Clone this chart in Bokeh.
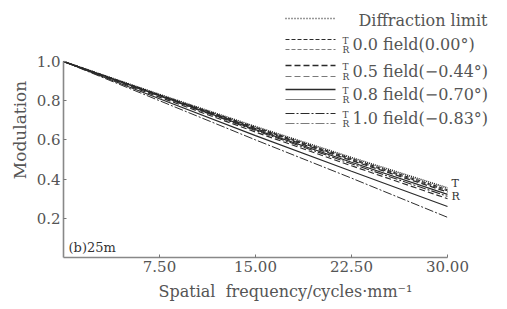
from bokeh.plotting import figure
from bokeh.models import FixedTicker, Range1d, Label
from bokeh.embed import file_html
from bokeh.resources import INLINE

freq = [0.0, 7.5, 15.0, 22.5, 30.0]
diffraction = [1.0, 0.832, 0.668, 0.510, 0.355]
f00_T = [1.0, 0.830, 0.664, 0.504, 0.346]
f00_R = [1.0, 0.829, 0.661, 0.499, 0.340]
f05_T = [1.0, 0.828, 0.658, 0.495, 0.334]
f05_R = [1.0, 0.818, 0.640, 0.468, 0.300]
f08_T = [1.0, 0.826, 0.652, 0.486, 0.322]
f08_R = [1.0, 0.810, 0.622, 0.440, 0.260]
f10_T = [1.0, 0.824, 0.648, 0.478, 0.312]
f10_R = [1.0, 0.800, 0.600, 0.405, 0.205]

x_ticks = [7.5, 15.0, 22.5, 30.0]
x_tick_labels = ["7.50", "15.00", "22.50", "30.00"]
y_ticks = [0.2, 0.4, 0.6, 0.8, 1.0]
y_tick_labels = ["0.2", "0.4", "0.6", "0.8", "1.0"]

legend_labels = ["0.0\u00a0field(0.00°)", "0.5\u00a0field(−0.44°)",
                 "0.8\u00a0field(−0.70°)", "1.0\u00a0field(−0.83°)"]

FONT = "DejaVu Serif"
GREY = "#555555"
DARK = "#2a2a2a"
LIGHT = "#7a7a7a"

W, H = 507, 309
FL, FR, FT, FB = 63, W, 2, 257
X0, X1 = 0.0, (FR - FL) / 12.8
Y0, Y1 = 0.0, (FB - FT) / 196.0

p = figure(width=W, height=H, output_backend="svg", toolbar_location=None,
           x_range=Range1d(X0, X1), y_range=Range1d(Y0, Y1),
           min_border_left=FL, min_border_right=W - FR, min_border_top=FT,
           min_border_bottom=H - FB)
p.outline_line_color = None
p.grid.visible = False
p.background_fill_color = "white"

# helpers converting pixel positions to data coordinates (legend/labels layout)
def px(ix):
    return X0 + (ix - FL) / (FR - FL) * (X1 - X0)
def py(iy):
    return Y1 - (iy - FT) / (FB - FT) * (Y1 - Y0)

styles = [
    (f00_T, f00_R, "4 2", 1.1),
    (f05_T, f05_R, "6 3", 1.3),
    (f08_T, f08_R, "solid", 1.3),
    (f10_T, f10_R, "9 2 2 2", 1.1),
]

p.line(freq, diffraction, line_color="#222222", line_width=1.6, line_dash="1 1")
for t, r, dash, w in styles:
    p.line(freq, t, line_color=DARK, line_width=w, line_dash=dash)
    p.line(freq, r, line_color=DARK, line_width=w * 0.9, line_dash=dash)

# axes
p.xaxis.ticker = FixedTicker(ticks=x_ticks)
p.xaxis.major_label_overrides = dict(zip(x_ticks, x_tick_labels))
p.yaxis.ticker = FixedTicker(ticks=y_ticks)
p.yaxis.major_label_overrides = dict(zip(y_ticks, y_tick_labels))
p.xaxis.bounds = (0, 30)
p.yaxis.bounds = (0, 1.0)
for ax in (p.xaxis[0], p.yaxis[0]):
    ax.axis_line_color = "#888888"
    ax.axis_line_width = 1.6
    ax.major_tick_in = 3
    ax.major_tick_out = 0
    ax.major_tick_line_color = "#777777"
    ax.minor_tick_line_color = None
    ax.major_label_text_font = FONT
    ax.major_label_text_font_size = "15px"
    ax.major_label_text_color = GREY
    ax.axis_label_text_font = FONT
    ax.axis_label_text_font_style = "normal"
    ax.axis_label_text_color = GREY
p.xaxis.axis_label = "Spatial\u00a0\u00a0frequency/cycles·mm⁻¹"
p.xaxis.axis_label_text_font_size = "16px"
p.yaxis.axis_label = "Modulation"
p.yaxis.axis_label_text_font_size = "17px"
p.xaxis.major_label_standoff = 3
p.xaxis.axis_label_standoff = 7
p.yaxis.major_label_standoff = 3
p.yaxis.axis_label_standoff = 4

# panel label
p.add_layout(Label(x=px(68), y=py(247), text="(b)25m", text_font=FONT, text_font_size="13px",
                   text_color="#333333", text_baseline="middle"))

# end labels
p.add_layout(Label(x=px(451), y=py(183), text="T", text_font=FONT, text_font_size="11px",
                   text_color="#333333", text_baseline="middle"))
p.add_layout(Label(x=px(451), y=py(196), text="R", text_font=FONT, text_font_size="11px",
                   text_color="#333333", text_baseline="middle"))

# legend
lx0, lx1 = px(285), px(335)
p.line([lx0, lx1], [py(18), py(18)], line_color="#333333", line_width=1.3, line_dash="1 2")
p.add_layout(Label(x=px(358), y=py(20), text="Diffraction\u00a0limit", text_font=FONT,
                   text_font_size="16px", text_color=GREY, text_baseline="middle"))
rows_T = [39, 65, 89, 113]
rows_R = [49, 76, 99, 123]
for (t, r, dash, w), lab, yt, yr in zip(styles, legend_labels, rows_T, rows_R):
    p.line([lx0, lx1], [py(yt), py(yt)], line_color=DARK, line_width=w, line_dash=dash)
    p.line([lx0, lx1], [py(yr), py(yr)], line_color=LIGHT, line_width=w * 0.9, line_dash=dash)
    p.add_layout(Label(x=px(342), y=py(yt + 1), text="T", text_font=FONT, text_font_size="9px",
                       text_color="#444444", text_baseline="middle"))
    p.add_layout(Label(x=px(342), y=py(yr), text="R", text_font=FONT, text_font_size="9px",
                       text_color="#444444", text_baseline="middle"))
    p.add_layout(Label(x=px(352), y=py((yt + yr) / 2), text=lab, text_font=FONT,
                       text_font_size="16px", text_color=GREY, text_baseline="middle"))

open("out.html", "w").write(file_html(p, INLINE))
